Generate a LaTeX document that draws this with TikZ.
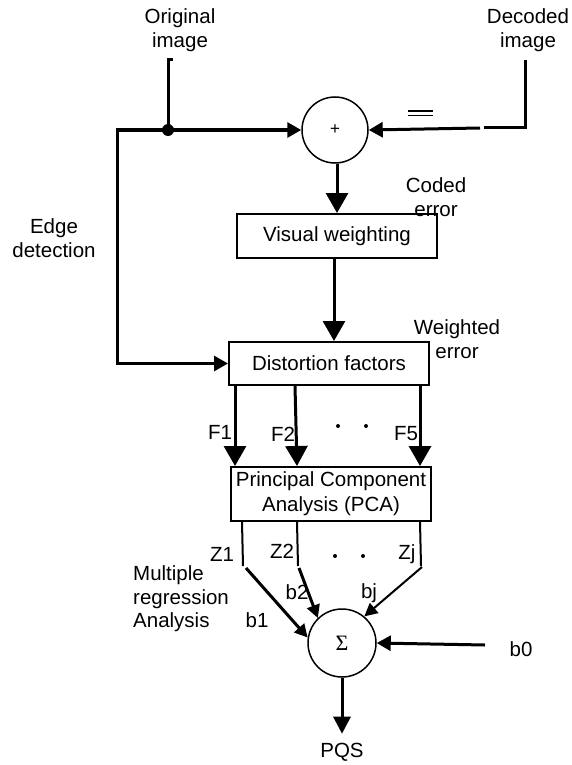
\documentclass[tikz,border=0pt]{standalone}
\usepackage{fontspec}
\setmainfont{Liberation Sans}
\newfontfamily\grserif{Liberation Serif}
\usetikzlibrary{arrows.meta,calc}
\begin{document}
\begin{tikzpicture}[x=1pt,y=-1pt,
  lbl/.style={inner sep=0pt, align=center, font=\fontsize{20.5}{23.5}\selectfont},
  box/.style={draw, line width=2pt, minimum width=200pt, inner sep=0pt, align=center, font=\fontsize{20.5}{25}\selectfont},
  circ/.style={draw, circle, line width=1.5pt, inner sep=0pt},
  thk/.style={line width=3pt},
  med/.style={line width=2pt},
  arrB/.style={-{Triangle[length=20pt,width=22pt]}},
  arrP/.style={-{Triangle[length=17pt,width=17pt]}},
  arrS/.style={-{Triangle[length=14pt,width=15pt]}},
  arrM/.style={-{Triangle[length=13pt,width=13pt]}},
  dotn/.style={circle, fill, inner sep=0pt, minimum size=12pt},
  sdot/.style={circle, fill, inner sep=0pt, minimum size=4pt}]
\useasboundingbox (0,0) rectangle (571,765);

% texts
\node[lbl] (orig) at (180,30) {Original\\image};
\node[lbl] (dec) at (528,30) {Decoded\\image};
\node[lbl] (coded) at (436,197) {Coded\\error};
\node[lbl] (weighted) at (457,339) {Weighted\\error};
\node[lbl] (edge) at (54,238) {Edge\\detection};
\node[lbl, align=left, anchor=west] (mra) at (133,599) {Multiple\\regression\\Analysis};

% blocks
\node[circ, minimum size=66pt] (plus) at (335,130) {\fontsize{17}{17}\selectfont +};
\node[box, minimum height=44pt] (vw) at (337,236) {Visual weighting};
\node[box, minimum height=43pt] (df) at (329,363.5) {Distortion factors};
\node[box, minimum height=54pt] (pca) at (331,494) {Principal Component\\Analysis (PCA)};
\node[circ, minimum size=68pt] (sig) at (342,643) {\grserif\fontsize{22}{22}\selectfont Σ};
\node[lbl] (pqs) at (342,752) {PQS};
\node[lbl] (b0) at (521,649) {b0};

% coordinates
\coordinate (otick) at (173,60);
\coordinate (otop) at (168,60);
\coordinate (eL) at (117,130);
\node[dotn] (j) at (168,130) {};
\coordinate (dtop) at (525,60);
\coordinate (dcor) at (525,128);
\coordinate (dgapA) at (484,128);
\coordinate (dgapB) at (480,128);
\coordinate (b0s) at (485,645);
\coordinate (z1e) at (243,566);
\coordinate (z2e) at (298,566);
\coordinate (zje) at (421,566);
\coordinate (z1s) at (246,568);
\coordinate (z2s) at (299,568);
\coordinate (zjs) at (422,567);

% top part
\draw[thk] (otick) -- (otop) -- (j.center);
\draw[thk, arrS] (j.center) -- (plus.west);
\draw[thk, arrS] (j.center) -- (eL) -- (eL |- df.west) -- (df.west);
\draw[thk] (dtop) -- (dcor) -- (dgapA);
\draw[thk, arrS] (dgapB) -- (plus.east);
\draw[line width=1.5pt] (408,111) -- (433,111) (408,115.5) -- (433,115.5);

\draw[thk, arrB] (plus.south -| vw.north) -- (vw.north);
\draw[thk, arrB] ([xshift=-3pt]vw.south) -- ([xshift=5pt]df.north);

% F arrows
\draw[thk, arrB] ([xshift=7pt]df.south west) -- ([xshift=5pt]pca.north west);
\draw[thk, arrB] ([xshift=67pt]df.south west) -- ([xshift=67pt]pca.north west);
\draw[thk, arrB] ([xshift=192pt]df.south west) -- ([xshift=190pt]pca.north west);
\node[lbl] (f1) at (220,432) {F1};
\node[lbl] (f2) at (283,434) {F2};
\node[lbl] (f5) at (406,434) {F5};
\node[sdot] (fd1) at (338,426) {};
\node[sdot] (fd2) at (366,426) {};

% Z lines
\draw[med] ([xshift=12pt]pca.south west) -- (z1e);
\draw[med] ([xshift=67pt]pca.south west) -- (z2e);
\draw[med] ([xshift=190pt]pca.south west) -- (zje);
\node[lbl] (z1) at (222,554) {Z1};
\node[lbl] (z2) at (282,551) {Z2};
\node[lbl] (zj) at (407,554) {Zj};
\node[sdot] (zd1) at (335,556) {};
\node[sdot] (zd2) at (363,556) {};

% regression
\draw[thk, arrM] (z1s) -- (sig.171);
\draw[thk, arrM] (z2s) -- (sig.134);
\draw[med, arrM] (zjs) -- (sig.50);
\draw[thk, arrS] (b0s) -- (sig.east);
\node[lbl] (b1) at (257,620) {b1};
\node[lbl] (b2) at (297,592) {b2};
\node[lbl] (bj) at (369,593) {bj};

\draw[thk, arrP] (sig.south) -- ([yshift=9pt]pqs.north);
\end{tikzpicture}
\end{document}
